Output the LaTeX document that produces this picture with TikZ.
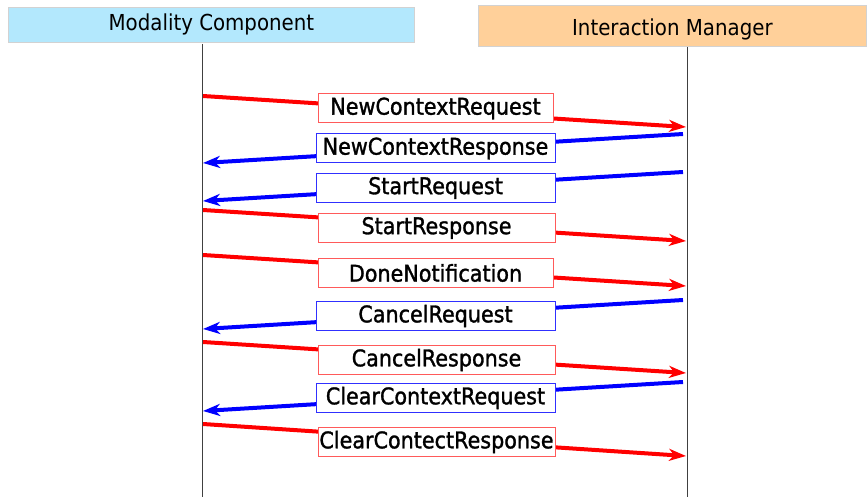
\documentclass[tikz,border=0pt]{standalone}
\usepackage{fontspec}
\setmainfont{DejaVu Sans}[FakeStretch=0.9]
\newfontfamily\lblfont{DejaVu Sans}[FakeStretch=0.9,FakeBold=1.3]
\usetikzlibrary{arrows.meta}
\definecolor{hdrblue}{HTML}{B3E8FD}
\definecolor{hdrorange}{HTML}{FFD09A}
\definecolor{msgred}{HTML}{FF0000}
\definecolor{msgblue}{HTML}{0000FF}
\definecolor{boxred}{HTML}{FF5A5A}
\definecolor{boxblue}{HTML}{3030FF}
\tikzset{
  hdr/.style={draw=gray!35, line width=0.8pt, anchor=north west, inner sep=0pt, font=\fontsize{22}{26}\selectfont},
  life/.style={draw=black!75, line width=1pt},
  redmsg/.style={draw=msgred, line width=4pt, -{Stealth[length=17pt,width=12pt,inset=5pt]}},
  bluemsg/.style={draw=msgblue, line width=4pt, -{Stealth[length=17pt,width=12pt,inset=5pt]}},
  lbl/.style={fill=white, line width=1pt, inner sep=0pt, minimum height=29pt, font=\lblfont\fontsize{23}{26}\selectfont},
  redlbl/.style={lbl, draw=boxred, minimum width=235pt},
  bluelbl/.style={lbl, draw=boxblue, minimum width=239pt},
}
\begin{document}
\begin{tikzpicture}[x=1pt,y=-1pt]
\useasboundingbox (0,0) rectangle (867,497);
% headers
\node[hdr, fill=hdrblue, minimum width=406pt, minimum height=35pt] (mc) at (8,7) {Modality Component};
\node[hdr, fill=hdrorange, minimum width=388pt, minimum height=41pt,
      label={[yshift=-4pt, font=\fontsize{22}{26}\selectfont]center:Interaction Manager}] (im) at (478,5) {};
% lifelines
\coordinate (mctop) at (202,44);
\coordinate (mcbot) at (202,497);
\coordinate (imtop) at (687,47);
\coordinate (imbot) at (687,497);
\draw[life] (mctop) -- (mcbot);
\draw[life] (imtop) -- (imbot);
% message end points
\coordinate (a1) at (203,96);  \coordinate (b1) at (686,127);
\coordinate (a2) at (683,134); \coordinate (b2) at (203,163);
\coordinate (a3) at (683,172); \coordinate (b3) at (203,201);
\coordinate (a4) at (203,210); \coordinate (b4) at (686,241);
\coordinate (a5) at (203,255); \coordinate (b5) at (686,286);
\coordinate (a6) at (683,300); \coordinate (b6) at (203,329);
\coordinate (a7) at (203,342); \coordinate (b7) at (686,373);
\coordinate (a8) at (683,382); \coordinate (b8) at (203,411);
\coordinate (a9) at (203,424); \coordinate (b9) at (686,456);
\draw[redmsg] (a1) -- (b1);
\draw[bluemsg] (a2) -- (b2);
\draw[bluemsg] (a3) -- (b3);
\draw[redmsg] (a4) -- (b4);
\draw[redmsg] (a5) -- (b5);
\draw[bluemsg] (a6) -- (b6);
\draw[redmsg] (a7) -- (b7);
\draw[bluemsg] (a8) -- (b8);
\draw[redmsg] (a9) -- (b9);
% labels
\node[redlbl] (l1) at (435.5,108.5) {NewContextRequest};
\node[bluelbl] (l2) at (435.5,148.5) {NewContextResponse};
\node[bluelbl] (l3) at (435.5,188) {StartRequest};
\node[redlbl, minimum width=237pt] (l4) at (436.5,228) {StartResponse};
\node[redlbl] (l5) at (435.5,273) {DoneNotification};
\node[bluelbl] (l6) at (435.5,316) {CancelRequest};
\node[redlbl, minimum width=237pt] (l7) at (436.5,360) {CancelResponse};
\node[bluelbl] (l8) at (435.5,398) {ClearContextRequest};
\node[redlbl, minimum width=237pt] (l9) at (436.5,442) {ClearContectResponse};
\end{tikzpicture}
\end{document}
